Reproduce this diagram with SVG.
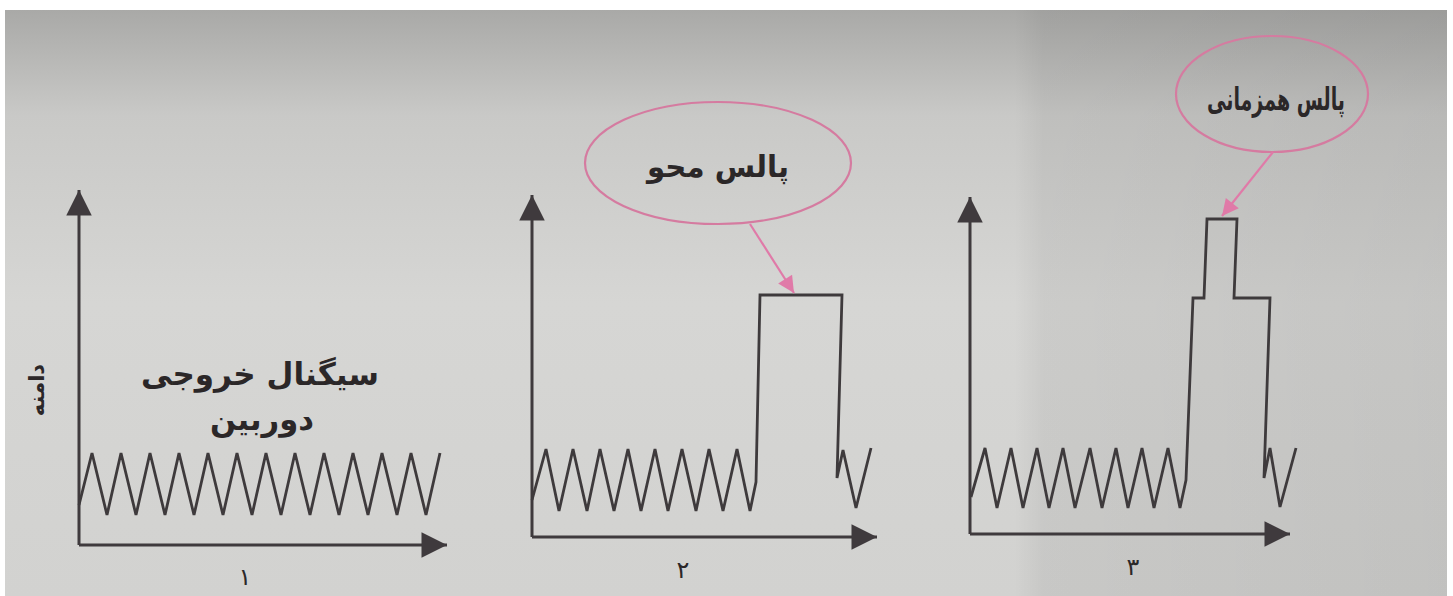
<svg xmlns="http://www.w3.org/2000/svg" width="1453" height="596" viewBox="0 0 1453 596">
<defs>
<linearGradient id="bg" x1="0" y1="0" x2="0" y2="1">
<stop offset="0" stop-color="#a9a9a7"/>
<stop offset="0.18" stop-color="#c9c9c7"/>
<stop offset="0.5" stop-color="#d6d6d4"/>
<stop offset="1" stop-color="#d2d2d0"/>
</linearGradient>
<linearGradient id="bgx" x1="0" y1="0" x2="1" y2="0">
<stop offset="0" stop-color="#000" stop-opacity="0"/>
<stop offset="0.7" stop-color="#000" stop-opacity="0"/>
<stop offset="0.72" stop-color="#000" stop-opacity="0.05"/>
<stop offset="1" stop-color="#000" stop-opacity="0.08"/>
</linearGradient>
<marker id="ah" viewBox="0 0 10 10" refX="10" refY="5" markerWidth="9.5" markerHeight="8.5" markerUnits="strokeWidth" orient="auto">
<path d="M0,0 L10,5 L0,10 z" fill="#3f3a3d"/>
</marker>
<marker id="ahp" viewBox="0 0 10 10" refX="10" refY="5" markerWidth="8.5" markerHeight="7.5" markerUnits="strokeWidth" orient="auto">
<path d="M0,0 L10,5 L0,10 z" fill="#e07aa8"/>
</marker>
</defs>
<style>
.axis{fill:none;stroke:#3f3a3d;stroke-width:3;marker-end:url(#ah)}
.sig{fill:none;stroke:#3e3a3c;stroke-width:2.8;stroke-linejoin:miter}
.bubble{fill:none;stroke:#d57ba0;stroke-width:2.2}
.lead{fill:none;stroke:#e07aa8;stroke-width:2.2;marker-end:url(#ahp)}
.t{font-family:"DejaVu Sans",sans-serif;font-weight:bold;fill:#2b2728;text-anchor:middle}
.n{font-family:"DejaVu Sans",sans-serif;font-weight:normal;fill:#2b2728;text-anchor:middle}
</style>
<rect x="0" y="0" width="1453" height="596" fill="#ffffff"/>
<rect x="5" y="10" width="1442" height="586" fill="url(#bg)"/>
<rect x="5" y="10" width="1442" height="586" fill="url(#bgx)"/>

<g id="panel1">
<path class="axis" d="M79,545 V190"/>
<path class="axis" d="M79,545 H447"/>
<path class="sig" d="M79,505 L92,453 L107,515 L121,453 L136,515 L150,453 L165,515 L179,453 L194,515 L208,453 L223,515 L237,453 L252,515 L266,453 L281,515 L295,453 L310,515 L324,453 L339,515 L353,453 L368,515 L382,453 L397,515 L411,453 L426,515 L440,453"/>
<text class="t" x="44" y="390" font-size="21" transform="rotate(-90 44 390)">دامنه</text>
<text class="t" x="260" y="385" font-size="31">سیگنال خروجی</text>
<text class="t" x="262" y="430" font-size="31" textLength="104" lengthAdjust="spacingAndGlyphs">دوربین</text>
<text class="n" x="245" y="585" font-size="24">۱</text>
</g>

<g id="panel2">
<path class="axis" d="M532,537 V195"/>
<path class="axis" d="M532,537 H877"/>
<path class="sig" d="M532,500 L546,449 L559,511 L573,449 L587,511 L600,449 L614,511 L628,449 L641,511 L655,449 L668,511 L682,449 L696,511 L709,449 L723,511 L737,449 L750,511 L756,482 L760,295 L842,295 L837,478 L843,450 L856,508 L871,448"/>
<text class="n" x="683" y="578" font-size="24">۲</text>
</g>

<g id="panel3">
<path class="axis" d="M970,534 V197"/>
<path class="axis" d="M970,534 H1290"/>
<path class="sig" d="M971,497 L985,448 L997,508 L1011,448 L1023,508 L1037,448 L1049,508 L1063,448 L1075,508 L1090,448 L1102,508 L1116,448 L1128,508 L1142,448 L1154,508 L1168,448 L1180,508 L1186,480 L1193,298 L1204,298 L1207,219 L1237,219 L1234,298 L1270,298 L1264,478 L1270,448 L1280,507 L1296,448"/>
<text class="n" x="1133" y="575" font-size="24">۳</text>
</g>

<g id="callout-erase">
<ellipse class="bubble" cx="718" cy="163" rx="133" ry="61"/>
<text class="t" x="718" y="177" font-size="30" textLength="142" lengthAdjust="spacingAndGlyphs">پالس محو</text>
</g>

<g id="callout-sync">
<ellipse class="bubble" cx="1272" cy="94" rx="96" ry="58"/>
<text class="t" x="1276" y="110" font-size="31" textLength="138" lengthAdjust="spacingAndGlyphs">پالس همزمانی</text>
</g>

<g id="connectors">
<path class="lead" d="M750,224 L794,293"/>
<path class="lead" d="M1273,152 L1222,216"/>
</g>
</svg>
